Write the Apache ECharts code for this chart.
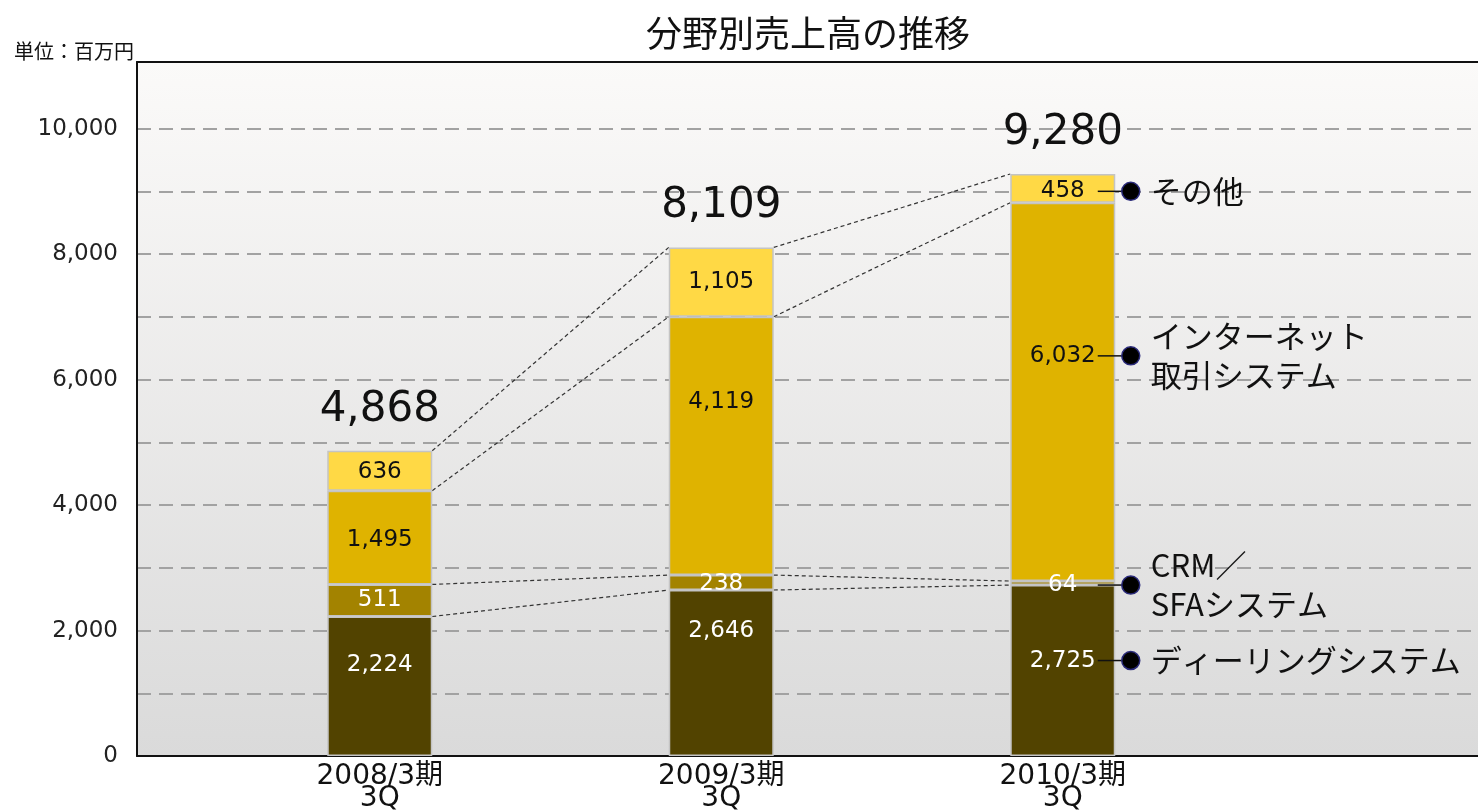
<!DOCTYPE html>
<html>
<head>
<meta charset="utf-8">
<script src="https://cdn.jsdelivr.net/npm/echarts@6/dist/echarts.min.js"></script>
<style>
  html, body { margin: 0; padding: 0; background: #fff; }
  #main { width: 1478px; height: 812px; }
</style>
</head>
<body>
<div id="main"></div>
<script>
// データ（単位：百万円）
var categories = ["2008/3期\n3Q", "2009/3期\n3Q", "2010/3期\n3Q"]
var seriesNames = ["ディーリングシステム", "CRM／\nSFAシステム", "インターネット\n取引システム", "その他"]
var dealing = [2224, 2646, 2725]
var crm = [511, 238, 64]
var internet = [1495, 4119, 6032]
var other = [636, 1105, 458]
var totals = [4868, 8109, 9280]
var yTicks = [0, 2000, 4000, 6000, 8000, 10000]

var NUM_FONT = "'DejaVu Sans', 'Noto Sans CJK JP', sans-serif"
var JP_FONT = "'Noto Sans CJK JP', 'DejaVu Sans', sans-serif"
var colors = ["#524300", "#a38300", "#dfb300", "#ffd945"]
var labelColors = ["#fff", "#fff", "#111", "#111"]
// ラベルの上下ずれ（元の図に合わせる）
var labelShift = [[-21, -42, -10], [0, 1, 2], [2, -44, -36], [1, 0, 3]]
var BAR_W = 105
var Y_MAX = 11000

var stackData = [dealing, crm, internet, other]

function fmt(v) {
  return Number(v).toLocaleString("en-US")
}

// 積み上げの累計
var cums = stackData.map(function (arr, s) {
  return arr.map(function (v, i) {
    var c = 0
    for (var k = 0; k <= s; k++) c += stackData[k][i]
    return c
  })
})

// 区分線（棒と棒の間の点線）
var linkData = []
for (var i = 0; i < categories.length - 1; i++) {
  for (var s = 0; s < cums.length; s++) {
    linkData.push([i, cums[s][i], cums[s][i + 1]])
  }
}

// 右側の注記（最後の棒）
var last = categories.length - 1
var noteData = stackData.map(function (arr, s) {
  return [last, cums[s][last] - arr[last] / 2]
})

var totalData = totals.map(function (v, i) { return [i, v] })

var barSeries = stackData.map(function (arr, s) {
  return {
    name: seriesNames[s],
    type: "bar",
    stack: "total",
    xAxisIndex: 3,
    yAxisIndex: 2,
    barWidth: BAR_W,
    itemStyle: { color: colors[s], borderColor: "#c4c4c4", borderWidth: 1.5 },
    label: {
      show: true,
      position: "inside",
      color: labelColors[s],
      fontFamily: NUM_FONT,
      fontSize: 23,
      formatter: function (p) { return fmt(p.value) }
    },
    data: arr.map(function (v, i) {
      return { value: v, label: { offset: [0, labelShift[s][i]] } }
    })
  }
})

var chart = echarts.init(document.getElementById("main"))
var option = {
  animation: false,
  title: [
    {
      text: "分野別売上高の推移",
      left: 641,
      top: 10,
      textStyle: { fontFamily: JP_FONT, fontSize: 36, fontWeight: "normal", color: "#111" }
    },
    {
      text: "単位：百万円",
      left: 9,
      top: 36,
      textStyle: { fontFamily: JP_FONT, fontSize: 20, fontWeight: "normal", color: "#111" }
    }
  ],
  grid: [
    {
      // 枠と背景
      left: 137, right: 0, top: 62, bottom: 56,
      outerBoundsMode: "none",
      show: true,
      z: -1,
      borderWidth: 0,
      backgroundColor: new echarts.graphic.LinearGradient(0, 0, 0, 1, [
        { offset: 0, color: "#fbfaf9" },
        { offset: 1, color: "#dadada" }
      ])
    },
    // 目盛り
    { left: 137, right: 0, top: 66, bottom: 56, outerBoundsMode: "none" },
    // 棒
    { left: 209, width: 1024.5, top: 66, bottom: 56, outerBoundsMode: "none" }
  ],
  xAxis: [
    {
      gridIndex: 0, type: "category", data: [""], position: "bottom",
      axisLine: { lineStyle: { color: "#111", width: 2 } },
      axisTick: { show: false }, axisLabel: { show: false }
    },
    {
      gridIndex: 0, type: "category", data: [""], position: "top",
      axisLine: { lineStyle: { color: "#111", width: 2 } },
      axisTick: { show: false }, axisLabel: { show: false }
    },
    { gridIndex: 1, type: "category", data: [""], show: false },
    {
      gridIndex: 2, type: "category", data: categories,
      axisLine: { show: false }, axisTick: { show: false },
      axisLabel: {
        color: "#111", fontFamily: NUM_FONT, fontSize: 28, lineHeight: 22, margin: 10
      }
    }
  ],
  yAxis: [
    {
      gridIndex: 0, type: "value", min: 0, max: 1,
      axisLine: { show: true, lineStyle: { color: "#111", width: 2 } },
      axisTick: { show: false }, axisLabel: { show: false }, splitLine: { show: false }
    },
    {
      gridIndex: 1, type: "value", min: 0, max: Y_MAX, interval: 1000,
      axisLine: { show: false },
      axisTick: { show: false },
      axisLabel: {
        color: "#222", fontFamily: NUM_FONT, fontSize: 23, margin: 19,
        formatter: function (v) { return yTicks.indexOf(v) >= 0 ? fmt(v) : "" }
      },
      splitLine: {
        showMaxLine: false, showMinLine: false,
        lineStyle: { color: "#a2a2a2", width: 2, type: [14, 8] }
      }
    },
    { gridIndex: 2, type: "value", min: 0, max: Y_MAX, show: false }
  ],
  series: barSeries.concat([
    {
      // 合計
      type: "custom",
      xAxisIndex: 3,
      yAxisIndex: 2,
      silent: true,
      data: totalData,
      z: 6,
      renderItem: function (params, api) {
        var p = api.coord([api.value(0), api.value(1)])
        return {
          type: "text", x: p[0], y: p[1] - 20,
          style: {
            text: fmt(api.value(1)), fill: "#111", fontFamily: NUM_FONT, fontSize: 42,
            align: "center", verticalAlign: "bottom"
          }
        }
      }
    },
    {
      // 点線
      type: "custom",
      xAxisIndex: 3,
      yAxisIndex: 2,
      silent: true,
      data: linkData,
      renderItem: function (params, api) {
        var p1 = api.coord([api.value(0), api.value(1)])
        var p2 = api.coord([api.value(0) + 1, api.value(2)])
        return {
          type: "line",
          shape: { x1: p1[0] + BAR_W / 2, y1: p1[1], x2: p2[0] - BAR_W / 2, y2: p2[1] },
          style: { stroke: "#333", lineWidth: 1.2, lineDash: [4, 3] }
        }
      }
    },
    {
      // 注記
      type: "custom",
      xAxisIndex: 3,
      yAxisIndex: 2,
      silent: true,
      data: noteData,
      z: 6,
      renderItem: function (params, api) {
        var k = params.dataIndex
        var p = api.coord([api.value(0), api.value(1)])
        var x = p[0]
        var y = p[1] + labelShift[k][last]
        return {
          type: "group",
          children: [
            { type: "line", shape: { x1: x + 35, y1: y, x2: x + 60, y2: y }, style: { stroke: "#111", lineWidth: 1.5 } },
            { type: "circle", shape: { cx: x + 68, cy: y, r: 9 }, style: { fill: "#000", stroke: "#2a2a7a", lineWidth: 1.5 } },
            {
              type: "text", x: x + 88, y: y,
              style: {
                text: seriesNames[k], fill: "#111", fontFamily: JP_FONT, fontSize: 31,
                verticalAlign: "middle", align: "left", lineHeight: 39
              }
            }
          ]
        }
      }
    }
  ])
}
chart.setOption(option)
window.addEventListener("resize", function () {
  chart.resize()
})
</script>
</body>
</html>
